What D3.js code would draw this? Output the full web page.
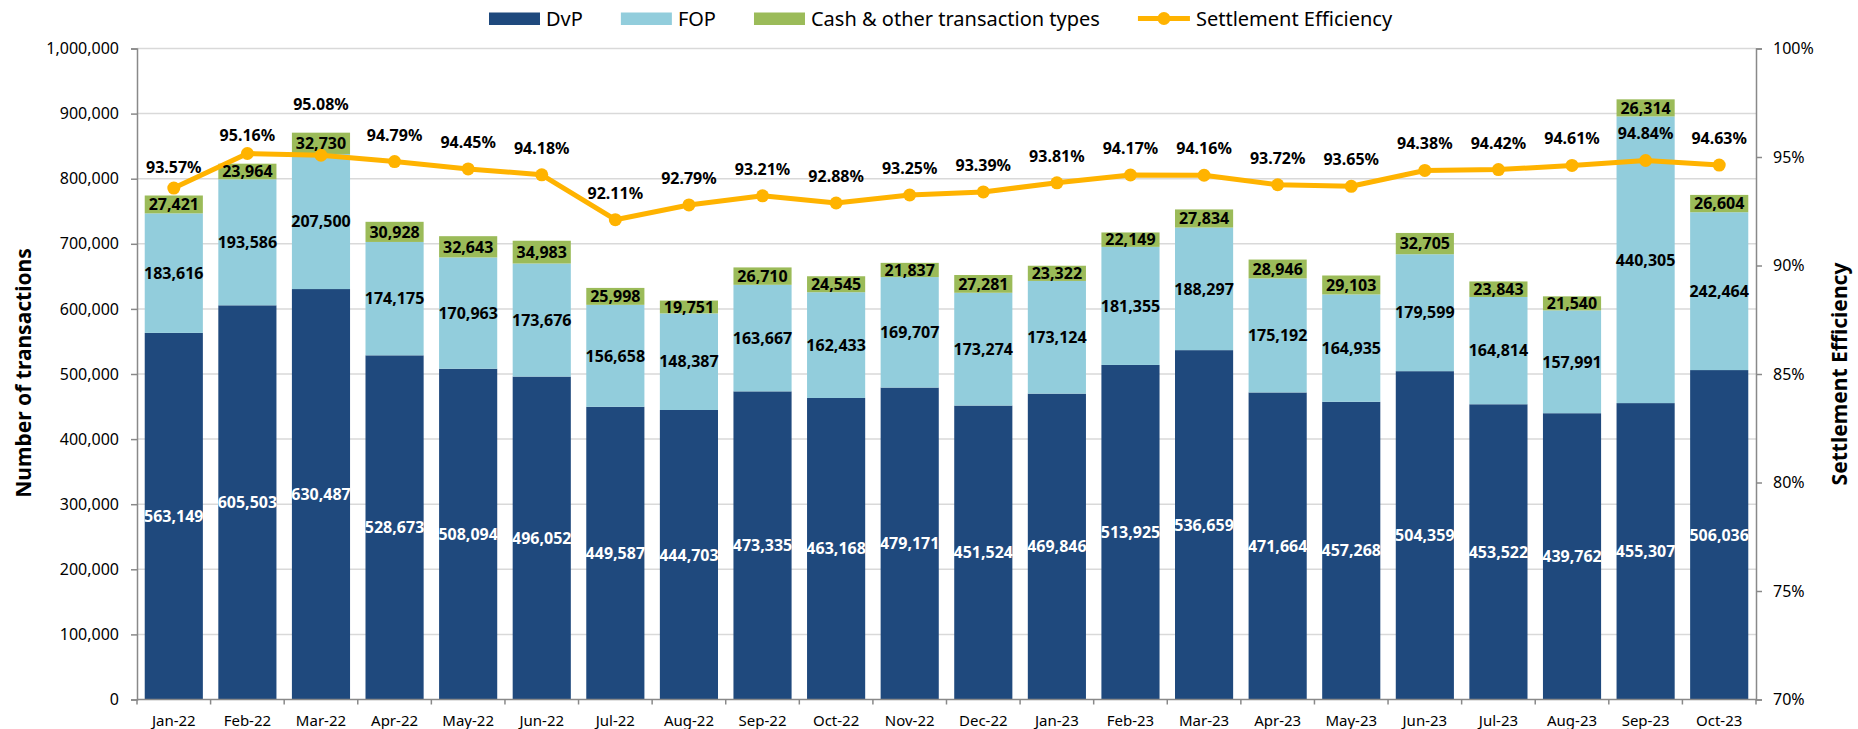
<!DOCTYPE html>
<html>
<head>
<meta charset="utf-8">
<script src="https://cdn.jsdelivr.net/npm/d3@7"></script>
<style>
  body { margin: 0; background: #fff; }
  text { font-family: "Noto Sans", sans-serif; }
</style>
</head>
<body>
<svg width="1858" height="729"></svg>
<script>
// data
const months = ["Jan-22","Feb-22","Mar-22","Apr-22","May-22","Jun-22","Jul-22","Aug-22","Sep-22","Oct-22","Nov-22","Dec-22",
                "Jan-23","Feb-23","Mar-23","Apr-23","May-23","Jun-23","Jul-23","Aug-23","Sep-23","Oct-23"];
const dvp = [563149,605503,630487,528673,508094,496052,449587,444703,473335,463168,479171,451524,
             469846,513925,536659,471664,457268,504359,453522,439762,455307,506036];
const fop = [183616,193586,207500,174175,170963,173676,156658,148387,163667,162433,169707,173274,
             173124,181355,188297,175192,164935,179599,164814,157991,440305,242464];
const cash = [27421,23964,32730,30928,32643,34983,25998,19751,26710,24545,21837,27281,
              23322,22149,27834,28946,29103,32705,23843,21540,26314,26604];
const efficiency = [93.57,95.16,95.08,94.79,94.45,94.18,92.11,92.79,93.21,92.88,93.25,93.39,
                    93.81,94.17,94.16,93.72,93.65,94.38,94.42,94.61,94.84,94.63];
const leftTicks = [0,100000,200000,300000,400000,500000,600000,700000,800000,900000,1000000];
const rightTicks = [70,75,80,85,90,95,100];
const seriesNames = ["DvP","FOP","Cash & other transaction types"];
const lineName = "Settlement Efficiency";

const colors = ["#1F497D","#92CDDC","#9BBB59"];
const lineColor = "#FFB300";

const svg = d3.select("svg");
const plotLeft = 137, plotRight = 1756, plotTop = 48.5, plotBottom = 699.5;

const x = d3.scaleBand().domain(months).range([plotLeft, plotRight]).paddingInner(0.21).paddingOuter(0.105);
const y = d3.scaleLinear().domain([0, 1000000]).range([plotBottom, plotTop]);
const y2 = d3.scaleLinear().domain([70, 100]).range([plotBottom, plotTop]);

// gridlines
svg.append("g")
    .selectAll("line")
    .data(leftTicks.slice(1))
    .join("line")
    .attr("x1", plotLeft).attr("x2", plotRight)
    .attr("y1", d => y(d)).attr("y2", d => y(d))
    .attr("stroke", "#D9D9D9")
    .attr("stroke-width", 1.5);

// stacked bars
const rows = months.map((m, i) => ({ month: m, DvP: dvp[i], FOP: fop[i], Cash: cash[i] }));
const stack = d3.stack().keys(["DvP","FOP","Cash"])(rows);

const layers = svg.append("g")
    .selectAll("g")
    .data(stack)
    .join("g")
    .attr("fill", (d, i) => colors[i]);

layers.selectAll("rect")
    .data(d => d)
    .join("rect")
    .attr("x", d => x(d.data.month))
    .attr("width", x.bandwidth())
    .attr("y", d => y(d[1]))
    .attr("height", d => y(d[0]) - y(d[1]));

// axes
const fmt = d3.format(",");
const yAxis = svg.append("g")
    .attr("transform", `translate(${plotLeft},0)`)
    .call(d3.axisLeft(y).tickValues(leftTicks).tickFormat(fmt).tickSize(6).tickPadding(12));
const y2Axis = svg.append("g")
    .attr("transform", `translate(${plotRight},0)`)
    .call(d3.axisRight(y2).tickValues(rightTicks).tickFormat(d => d + "%").tickSize(6).tickPadding(11));
[yAxis, y2Axis].forEach(a => {
    a.select(".domain").attr("stroke", "#898989").attr("stroke-width", 1.5);
    a.selectAll(".tick line").attr("stroke", "#898989").attr("stroke-width", 1.5);
    a.selectAll(".tick text").attr("font-size", 16).attr("fill", "#000")
        .style("font-family", "'Noto Sans', sans-serif");
});

// x axis with ticks between categories
svg.append("line")
    .attr("x1", plotLeft).attr("x2", plotRight)
    .attr("y1", plotBottom).attr("y2", plotBottom)
    .attr("stroke", "#898989").attr("stroke-width", 1.5);
const step = x.step();
svg.append("g")
    .selectAll("line")
    .data(d3.range(months.length + 1))
    .join("line")
    .attr("x1", i => plotLeft + i * step).attr("x2", i => plotLeft + i * step)
    .attr("y1", plotBottom).attr("y2", plotBottom + 5)
    .attr("stroke", "#898989").attr("stroke-width", 1.5);
svg.append("g")
    .selectAll("text")
    .data(months)
    .join("text")
    .attr("x", d => x(d) + x.bandwidth() / 2)
    .attr("y", 726)
    .attr("text-anchor", "middle")
    .attr("font-size", 15)
    .text(d => d);

// axis titles
svg.append("text")
    .attr("transform", "translate(31,373) rotate(-90)")
    .attr("text-anchor", "middle")
    .attr("font-size", 21)
    .attr("font-weight", "bold")
    .text("Number of transactions");
svg.append("text")
    .attr("transform", "translate(1847,374) rotate(-90)")
    .attr("text-anchor", "middle")
    .attr("font-size", 21)
    .attr("font-weight", "bold")
    .text(lineName);

// efficiency line
const cx = i => x(months[i]) + x.bandwidth() / 2;
svg.append("path")
    .datum(efficiency)
    .attr("fill", "none")
    .attr("stroke", lineColor)
    .attr("stroke-width", 5)
    .attr("stroke-linejoin", "round")
    .attr("d", d3.line().x((d, i) => cx(i)).y(d => y2(d)));
svg.append("g")
    .selectAll("circle")
    .data(efficiency)
    .join("circle")
    .attr("cx", (d, i) => cx(i))
    .attr("cy", d => y2(d))
    .attr("r", 6.5)
    .attr("fill", lineColor);

// bar labels
const labels = svg.append("g").attr("font-size", 16).attr("font-weight", "bold").attr("text-anchor", "middle");
stack.forEach((layer, k) => {
    labels.append("g")
        .attr("fill", k === 0 ? "#fff" : "#000")
        .selectAll("text")
        .data(layer)
        .join("text")
        .attr("x", d => x(d.data.month) + x.bandwidth() / 2)
        .attr("y", d => (y(d[0]) + y(d[1])) / 2)
        .attr("dy", "0.36em")
        .text(d => fmt(d[1] - d[0]));
});

// efficiency labels, lifted above the bar when the bar top is close to the point
labels.append("g")
    .selectAll("text")
    .data(efficiency)
    .join("text")
    .attr("x", (d, i) => cx(i))
    .attr("y", (d, i) => {
        const py = y2(d);
        const barTop = y(dvp[i] + fop[i] + cash[i]);
        return (barTop < py + 12 && barTop > py - 40) ? barTop - 23 : py - 21;
    })
    .text(d => d.toFixed(2) + "%");

// legend
const legend = svg.append("g").attr("font-size", 20);
let lx = 489;
seriesNames.forEach((name, i) => {
    legend.append("rect")
        .attr("x", lx).attr("y", 12.5)
        .attr("width", 51).attr("height", 12.5)
        .attr("fill", colors[i]);
    const t = legend.append("text")
        .attr("x", lx + 57).attr("y", 25.5)
        .text(name);
    lx += 57 + t.node().getComputedTextLength() + 38;
});
legend.append("line")
    .attr("x1", lx).attr("x2", lx + 52)
    .attr("y1", 18.5).attr("y2", 18.5)
    .attr("stroke", lineColor).attr("stroke-width", 5);
legend.append("circle")
    .attr("cx", lx + 26).attr("cy", 18.5).attr("r", 6.5)
    .attr("fill", lineColor);
legend.append("text")
    .attr("x", lx + 58).attr("y", 25.5)
    .text(lineName);
</script>
</body>
</html>
